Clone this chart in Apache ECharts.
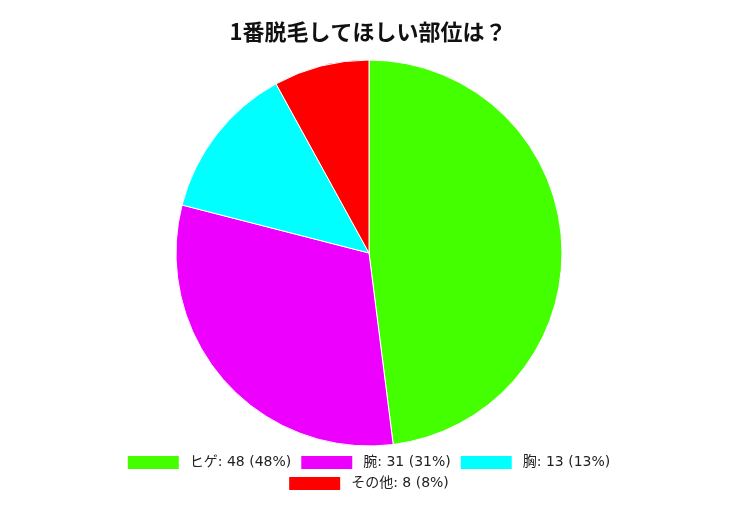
<!DOCTYPE html>
<html><head><meta charset="utf-8">
<script src="https://cdn.jsdelivr.net/npm/echarts@6/dist/echarts.min.js"></script>
<style>html,body{margin:0;padding:0;background:#fff}#c{width:736px;height:508px}</style>
</head><body><div id="c"></div>
<script>
const titleText = '1番脱毛してほしい部位は？';
const categories = ['ヒゲ', '腕', '胸', 'その他'];
const values = [48, 31, 13, 8];
const colors = ['#44ff00', '#ee00ff', '#00ffff', '#ff0000'];
const total = values.reduce((a, b) => a + b, 0);
const fmt = name => {
  const i = categories.indexOf(name);
  return name + ': ' + values[i] + ' (' + Math.round(values[i] / total * 100) + '%)';
};
const font = '"DejaVu Sans", "Noto Sans CJK JP", sans-serif';
const legendCommon = {
  orient: 'horizontal', left: 'center', itemWidth: 53, itemHeight: 15, itemGap: 8,
  icon: 'rect', formatter: fmt,
  textStyle: { fontSize: 14, color: '#222', fontFamily: font, padding: [0, 0, 0, 5] }
};
const chart = echarts.init(document.getElementById('c'));
chart.setOption({
  animation: false,
  title: { text: titleText, left: 'center', top: 16,
    textStyle: { fontSize: 22, fontWeight: 'bold', color: '#111', fontFamily: '"Noto Sans CJK JP", sans-serif' } },
  legend: [
    Object.assign({}, legendCommon, { top: 449, data: categories.slice(0, 3) }),
    Object.assign({}, legendCommon, { top: 470, data: categories.slice(3) })
  ],
  series: [{
    type: 'pie', center: [369, 253], radius: 193, startAngle: 90, clockwise: true,
    label: { show: false }, labelLine: { show: false },
    itemStyle: { borderColor: '#fff', borderWidth: 1 },
    emphasis: { disabled: true },
    data: categories.map((c, i) => ({ name: c, value: values[i], itemStyle: { color: colors[i] } }))
  }]
});
</script></body></html>
